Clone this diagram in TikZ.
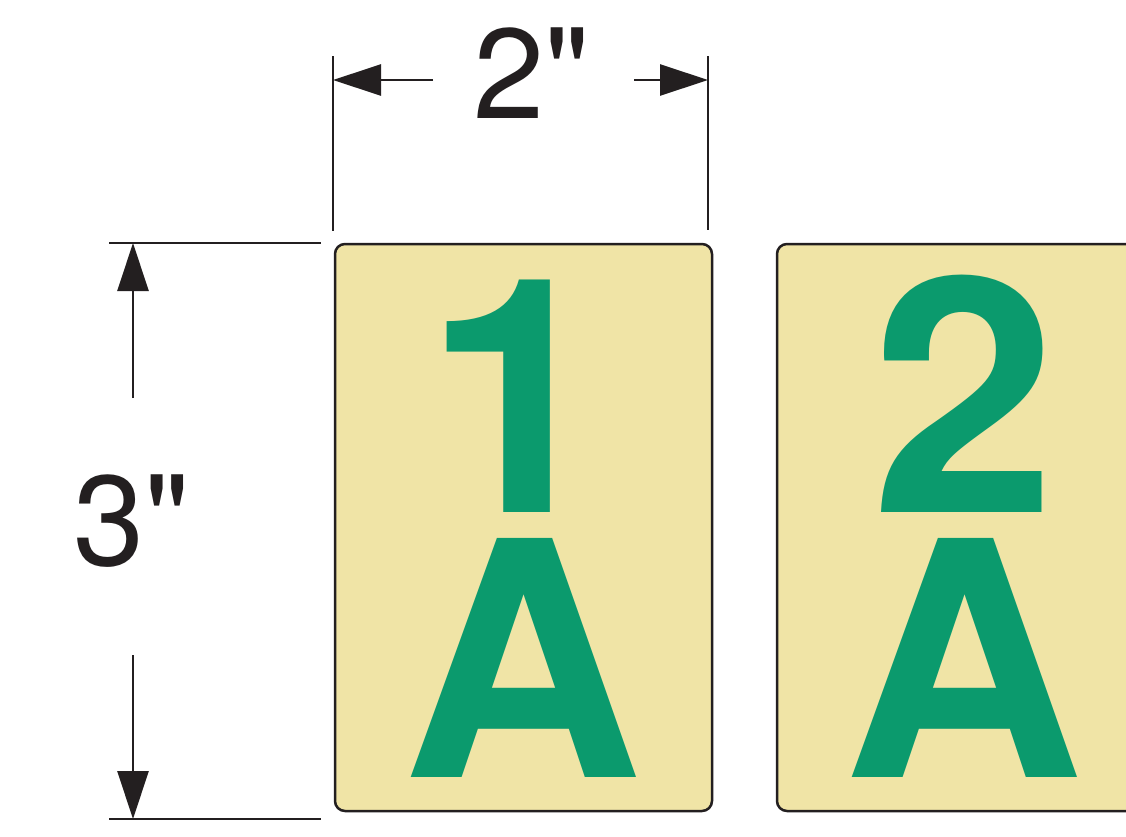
\documentclass[tikz,border=0pt]{standalone}
\usepackage{fontspec}
\usetikzlibrary{arrows.meta}
\newfontfamily\hv{TeX Gyre Heros}
\definecolor{cardfill}{HTML}{F0E4A6}
\definecolor{signgreen}{HTML}{0B9A6D}
\definecolor{inkblack}{HTML}{231F20}
\tikzset{
  x=1pt,y=-1pt,
  card/.style={draw=inkblack,line width=2.5pt,fill=cardfill,rounded corners=10pt},
  bigglyph/.style={text=signgreen,anchor=base,inner sep=0pt,xscale=1.015,transform shape,font=\hv\bfseries\fontsize{328}{328}\selectfont},
  dimtext/.style={text=inkblack,anchor=base,inner sep=0pt,font=\hv\fontsize{128}{128}\selectfont},
  extline/.style={draw=inkblack,line width=2.6pt},
  dimarrow/.style={draw=inkblack,line width=2.6pt,-{Triangle[length=48pt,width=31pt,fill=inkblack]}}
}
\begin{document}
\begin{tikzpicture}
\useasboundingbox (0,0) rectangle (1126,836);
\fill[white] (0,0) rectangle (1126,836);
\draw[card] (335,244) rectangle (712,811);
\draw[card] (777,244) rectangle (1160,811);
\node[bigglyph] (n1) at (517,512) {1};
\node[bigglyph] (a1) at (523,777) {A};
\node[bigglyph] (n2) at (964,512) {2};
\node[bigglyph] (a2) at (964,777) {A};
\node[dimtext] (w) at (532,118) {2\char"22};
\node[dimtext] (h) at (132,565) {3\char"22};
\coordinate (wl) at (333,80);
\coordinate (wr) at (708,80);
\coordinate (wls) at (433,80);
\coordinate (wrs) at (634,80);
\coordinate (ht) at (133,243);
\coordinate (hb) at (133,819);
\coordinate (hts) at (133,398);
\coordinate (hbs) at (133,655);
\draw[extline] (333,56) -- (333,231);
\draw[extline] (708,56) -- (708,230);
\draw[extline] (109,243) -- (321,243);
\draw[extline] (109,819) -- (321,819);
\draw[dimarrow] (wls) -- (wl);
\draw[dimarrow] (wrs) -- (wr);
\draw[dimarrow] (hts) -- (ht);
\draw[dimarrow] (hbs) -- (hb);
\end{tikzpicture}
\end{document}
